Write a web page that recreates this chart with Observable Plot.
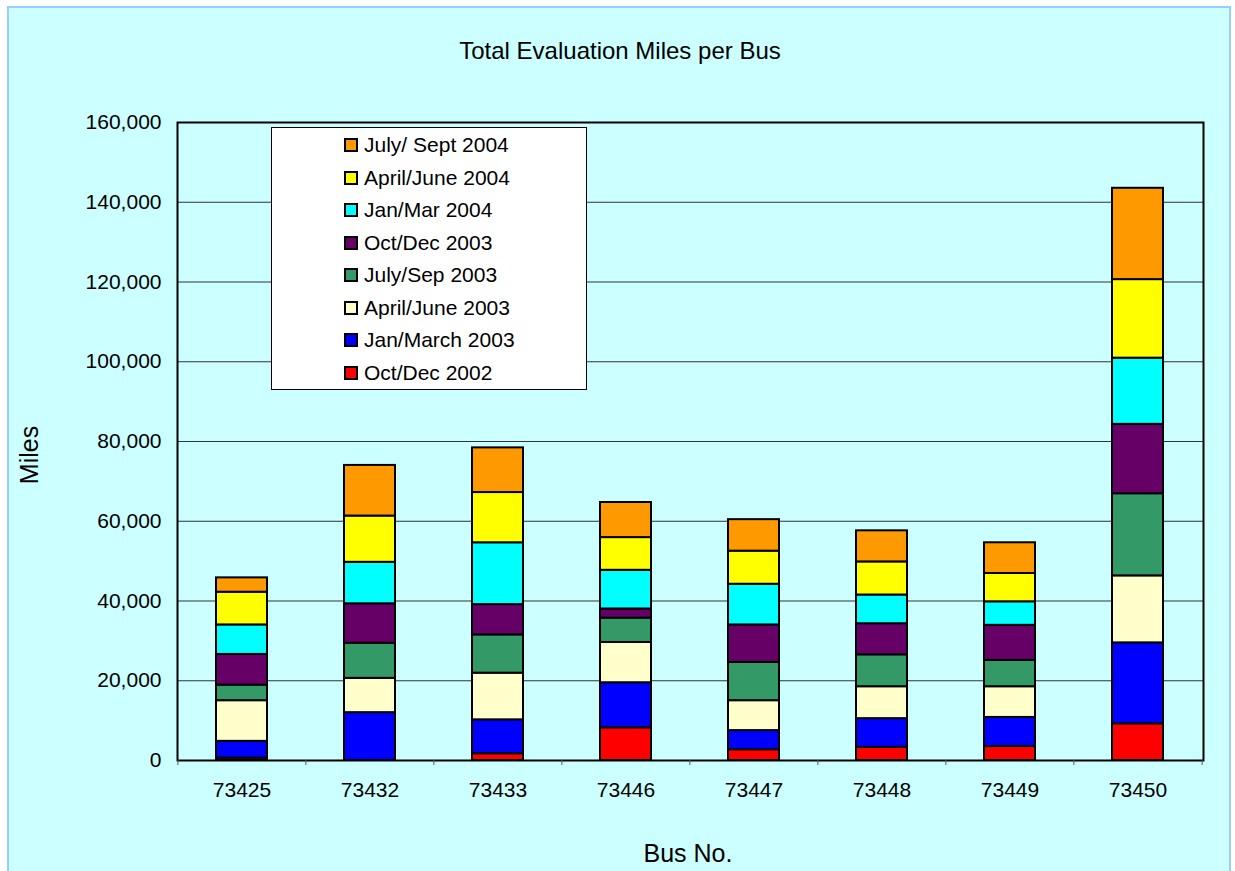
<!DOCTYPE html>
<html>
<head>
<meta charset="utf-8">
<script src="https://cdn.jsdelivr.net/npm/d3@7"></script>
<script src="https://cdn.jsdelivr.net/npm/@observablehq/plot@0.6"></script>
<style>
  html, body { margin: 0; padding: 0; background: #ffffff; overflow: hidden; }
  #wrap { position: relative; width: 1235px; height: 871px; font-family: "Liberation Sans", Arial, sans-serif; color: #000; }
  #frame { position: absolute; left: 7px; top: 6px; width: 1224px; height: 900px; box-sizing: border-box;
           background: #CCFFFF; border: 2px solid #99CCFF; border-bottom: none; }
  #chart { position: absolute; left: 0; top: 0; }
  .txt { position: absolute; line-height: 1; white-space: nowrap; }
  #title { left: 420px; width: 400px; top: 39px; text-align: center; font-size: 24px; }
  #xlabel { left: 588px; width: 200px; top: 841px; text-align: center; font-size: 25px; }
  #ylabel { left: 28.5px; top: 455px; font-size: 25px; transform: translate(-50%, -50%) rotate(-90deg); }
  #legend { position: absolute; left: 271px; top: 127px; width: 316px; height: 263px; box-sizing: border-box;
            background: #ffffff; border: 1px solid #000; }
  .row { position: absolute; left: 72px; height: 20px; line-height: 20px; font-size: 21px; white-space: nowrap; }
  .sw { position: absolute; left: 0; top: 3px; width: 14px; height: 14px; box-sizing: border-box; border: 2px solid #000; }
  .lt { position: absolute; left: 20px; top: 0; }
</style>
</head>
<body>
<div id="wrap">
  <div id="frame"></div>
  <div id="chart"></div>
  <div id="title" class="txt">Total Evaluation Miles per Bus</div>
  <div id="xlabel" class="txt">Bus No.</div>
  <div id="ylabel" class="txt">Miles</div>
  <div id="legend"></div>
</div>
<script>
// ---- data ----
const buses = ["73425", "73432", "73433", "73446", "73447", "73448", "73449", "73450"];
const periods = ["Oct/Dec 2002", "Jan/March 2003", "April/June 2003", "July/Sep 2003",
                 "Oct/Dec 2003", "Jan/Mar 2004", "April/June 2004", "July/ Sept 2004"];
const octDec2002 = [600, 0, 1700, 8200, 2700, 3300, 3500, 9200];
const janMar2003 = [4200, 12000, 8500, 11300, 4800, 7200, 7300, 20300];
const aprJun2003 = [10200, 8600, 11700, 10100, 7500, 8000, 7700, 16800];
const julSep2003 = [3900, 8800, 9600, 6100, 9600, 8000, 6600, 20600];
const octDec2003 = [7700, 9900, 7600, 2300, 9400, 7800, 8800, 17400];
const janMar2004 = [7400, 10400, 15500, 9700, 10200, 7200, 5900, 16600];
const aprJun2004 = [8200, 11600, 12600, 8200, 8300, 8300, 7100, 19700];
const julSep2004 = [3600, 12700, 11200, 8800, 7900, 7800, 7700, 22900];
const yTicks = [0, 20000, 40000, 60000, 80000, 100000, 120000, 140000, 160000];
const colors = ["#FF0000", "#0000FF", "#FFFFCC", "#339966", "#660066", "#00FFFF", "#FFFF00", "#FF9900"];

const series = [octDec2002, janMar2003, aprJun2003, julSep2003, octDec2003, janMar2004, aprJun2004, julSep2004];
const table = [];
series.forEach((vals, i) => vals.forEach((v, j) => table.push({bus: buses[j], period: periods[i], miles: v})));

const W = 1235, H = 871, ML = 177, MR = 32, MT = 122, MB = 111;
const step = (W - ML - MR) / buses.length;

const chart = Plot.plot({
  width: W, height: H,
  marginLeft: ML, marginRight: MR, marginTop: MT, marginBottom: MB,
  style: {background: "transparent", fontFamily: "'Liberation Sans', Arial, sans-serif", fontSize: "21px", color: "black"},
  x: {type: "band", domain: buses, paddingInner: 0.6, paddingOuter: 0.3, label: null, axis: null},
  y: {domain: [0, 160000], label: null, axis: null},
  color: {domain: periods, range: colors},
  marks: [
    Plot.gridY(yTicks, {stroke: "#333", strokeOpacity: 1, strokeWidth: 1}),
    Plot.barY(table, {x: "bus", y: "miles", fill: "period", stroke: "black", strokeWidth: 2}),
    Plot.frame({stroke: "black", strokeWidth: 2}),
    Plot.axisY({ticks: yTicks, tickFormat: d3.format(","), tickSize: 0, tickPadding: 16, fontSize: 21}),
    Plot.axisX({tickSize: 0, tickPadding: 22, fontSize: 21}),
    Plot.axisX({tickSize: 5, tickFormat: () => "", dx: -step / 2, stroke: "#555"}),
    Plot.axisX({ticks: [buses[buses.length - 1]], tickSize: 5, tickFormat: () => "", dx: step / 2, stroke: "#555"})
  ]
});
document.getElementById("chart").appendChild(chart);

// legend (top entry = top of stack)
const legend = document.getElementById("legend");
periods.slice().reverse().forEach((p, k) => {
  const idx = periods.indexOf(p);
  const row = document.createElement("div");
  row.className = "row";
  row.style.top = (7.3 + 32.5 * k) + "px";
  row.innerHTML = `<span class="sw" style="background:${colors[idx]}"></span><span class="lt">${p}</span>`;
  legend.appendChild(row);
});
</script>
</body>
</html>
